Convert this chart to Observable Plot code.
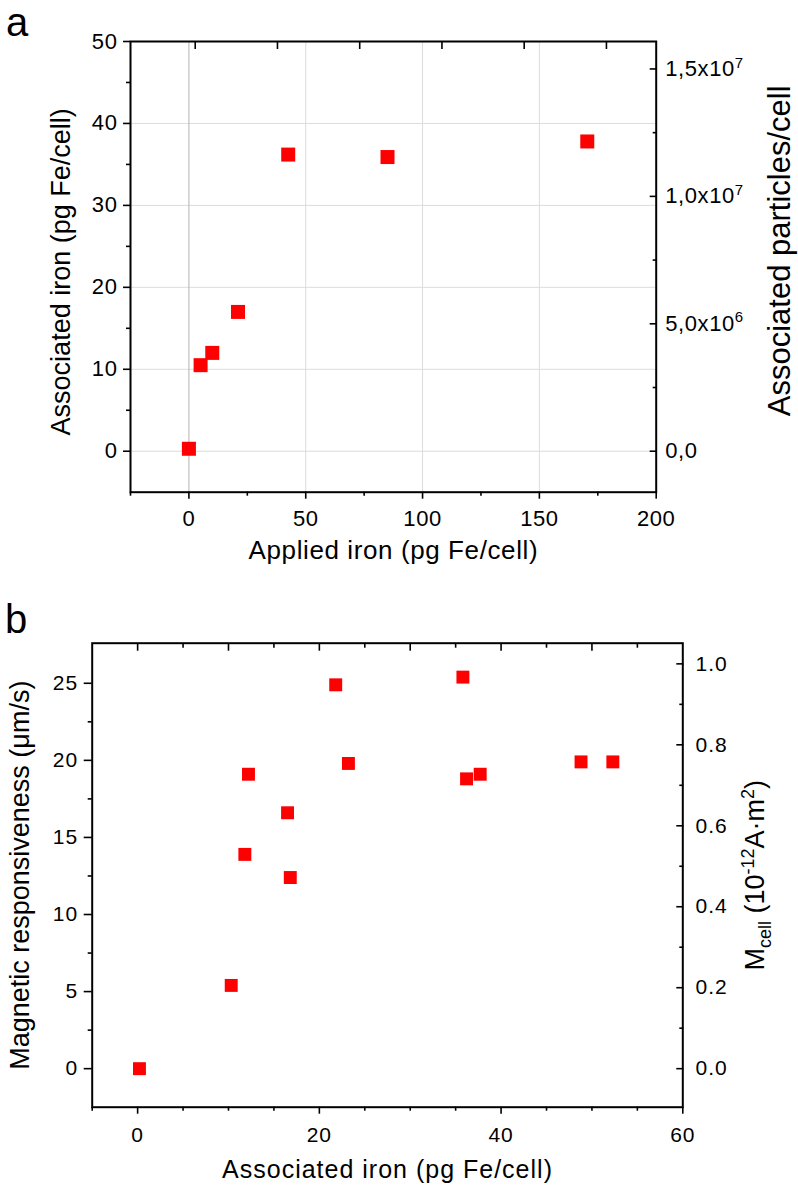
<!DOCTYPE html>
<html><head><meta charset="utf-8">
<script src="https://cdn.jsdelivr.net/npm/d3@7"></script>
<script src="https://cdn.jsdelivr.net/npm/@observablehq/plot@0.6"></script>
<style>
body{margin:0;background:#fff;}
#wrap{position:relative;width:798px;height:1188px;font-family:"Liberation Sans",Arial,Helvetica,sans-serif;color:#000;}
.panel{position:absolute;left:0;}
.letter{position:absolute;font-size:40px;line-height:40px;}
</style></head><body>
<div id="wrap">
<div id="pa" class="panel" style="top:0"></div>
<div id="pb" class="panel" style="top:590px"></div>
<div class="letter" style="left:6px;top:2px">a</div>
<div class="letter" style="left:5px;top:599px">b</div>
</div>
<script>
const FONT = '"Liberation Sans", Arial, Helvetica, sans-serif';

// ---------------- Panel a data ----------------
const appliedIron = [0, 5, 10, 21, 42.5, 85, 170.5];
const associatedIronA = [0.3, 10.5, 12.0, 17.0, 36.2, 35.9, 37.8];
const aXTicks = [0, 50, 100, 150, 200];
const aXMinor = [-25, 25, 75, 125, 175];
const aXTop = [2.7, 37.9, 73.1, 108.3, 143.5, 178.7];
const aYTicks = [0, 10, 20, 30, 40, 50];
const aYMinor = [5, 15, 25, 35, 45];
const aGridY = [0, 10, 20, 30, 40];
const aGridX = [50, 100, 150];
const aGridX0 = [0];
const particlesPerPg = 5e6 / 15.55;
const particleTicks = [0, 5e6, 1e7, 1.5e7];
const particleTickLabels = ["0,0", "5,0x10^{6}", "1,0x10^{7}", "1,5x10^{7}"];
const particleMinor = [2.5e6, 7.5e6, 1.25e7];

// ---------------- Panel b data ----------------
const associatedIronB = [0.2, 10.3, 11.8, 12.2, 16.5, 16.8, 21.8, 23.2, 35.8, 36.2, 37.7, 48.8, 52.3];
const responsiveness = [0, 5.4, 13.9, 19.1, 16.6, 12.4, 24.9, 19.8, 25.4, 18.8, 19.1, 19.9, 19.9];
const bXTicks = [0, 20, 40, 60];
const bXMinor = [-5, 5, 10, 15, 25, 30, 35, 45, 50, 55];
const bTopMajor = [0, 10, 20, 30, 40, 50];
const bTopMinor = [5, 15, 25, 35, 45, 55];
const bYTicks = [0, 5, 10, 15, 20, 25];
const bYMinor = [2.5, 7.5, 12.5, 17.5, 22.5];
const unitsPerMcell = 26.26; // µm/s per 1e-12 A·m²
const mcellTicks = [0, 0.2, 0.4, 0.6, 0.8, 1.0];
const mcellTickLabels = ["0.0", "0.2", "0.4", "0.6", "0.8", "1.0"];
const mcellMinor = [0.1, 0.3, 0.5, 0.7, 0.9];

const labelShift = {
  "Associated particles/cell": -16,
  "Associated iron (pg Fe/cell)@a": 5
};

function blank() { return ""; }

// ---------- Panel a ----------
const aRightPos = particleTicks.map(p => p / particlesPerPg);
const aRightMap = new Map(aRightPos.map((p, i) => [p, particleTickLabels[i]]));
const idxA = d3.range(appliedIron.length);
const plotA = Plot.plot({
  width: 798, height: 590,
  marginTop: 41, marginBottom: 98.3, marginLeft: 130, marginRight: 142.3,
  style: {fontFamily: FONT, fontSize: "22px", background: "white", color: "black", overflow: "visible"},
  x: {domain: [-25, 200]},
  y: {domain: [-5, 50]},
  marks: [
    Plot.ruleY(aGridY, {stroke: "#dcdcdc", strokeWidth: 1}),
    Plot.ruleX(aGridX, {stroke: "#dcdcdc", strokeWidth: 1}),
    Plot.ruleX(aGridX0, {stroke: "#b4b4b4", strokeWidth: 1}),
    Plot.dot(idxA, {x: i => appliedIron[i], y: i => associatedIronA[i], symbol: "square", r: 7.9, fill: "#ff0000", stroke: null}),
    Plot.frame({stroke: "black", strokeWidth: 2}),
    Plot.axisX(aXTicks, {anchor: "bottom", tickSize: 7, tickPadding: 11, strokeWidth: 1.6, fontSize: 22, label: null}),
    Plot.axisX(aXMinor, {anchor: "bottom", tickSize: 4, tickFormat: blank, strokeWidth: 1.6, label: null}),
    Plot.axisX(aXTop, {anchor: "top", tickSize: -7, tickFormat: blank, strokeWidth: 1.6, label: null}),
    Plot.axisX([], {anchor: "bottom", label: "Applied iron (pg Fe/cell)", labelAnchor: "center", labelArrow: "none", labelOffset: 67, fontSize: 26}),
    Plot.axisY(aYTicks, {anchor: "left", tickSize: 7, tickPadding: 6, strokeWidth: 1.6, fontSize: 22, label: null}),
    Plot.axisY(aYMinor, {anchor: "left", tickSize: 4, tickFormat: blank, strokeWidth: 1.6, label: null}),
    Plot.axisY([], {anchor: "left", label: "Associated iron (pg Fe/cell)", labelAnchor: "center", labelArrow: "none", labelOffset: 80, fontSize: 27}),
    Plot.axisY(aRightPos, {anchor: "right", tickSize: -7, tickPadding: 16, strokeWidth: 1.6, fontSize: 22, tickFormat: d => aRightMap.get(d), label: null}),
    Plot.axisY(particleMinor.map(p => p / particlesPerPg), {anchor: "right", tickSize: -4, tickFormat: blank, strokeWidth: 1.6, label: null}),
    Plot.axisY([], {anchor: "right", label: "Associated particles/cell", labelAnchor: "center", labelArrow: "none", labelOffset: 134, fontSize: 31})
  ]
});
document.getElementById("pa").appendChild(plotA);

// ---------- Panel b ----------
const bRightPos = mcellTicks.map(m => m * unitsPerMcell);
const bRightMap = new Map(bRightPos.map((p, i) => [p, mcellTickLabels[i]]));
const idxB = d3.range(associatedIronB.length);
const plotB = Plot.plot({
  width: 798, height: 598,
  marginTop: 52.7, marginBottom: 81.3, marginLeft: 91.7, marginRight: 115.7,
  style: {fontFamily: FONT, fontSize: "21px", background: "white", color: "black", overflow: "visible"},
  x: {domain: [-5, 60]},
  y: {domain: [-2.5, 27.6]},
  marks: [
    Plot.dot(idxB, {x: i => associatedIronB[i], y: i => responsiveness[i], symbol: "square", r: 7.3, fill: "#ff0000", stroke: null}),
    Plot.frame({stroke: "black", strokeWidth: 2}),
    Plot.axisX(bXTicks, {anchor: "bottom", tickSize: 7, tickPadding: 13, strokeWidth: 1.6, fontSize: 21, label: null}),
    Plot.axisX(bXMinor, {anchor: "bottom", tickSize: 4, tickFormat: blank, strokeWidth: 1.6, label: null}),
    Plot.axisX(bTopMajor, {anchor: "top", tickSize: -7, tickFormat: blank, strokeWidth: 1.6, label: null}),
    Plot.axisX(bTopMinor, {anchor: "top", tickSize: -4, tickFormat: blank, strokeWidth: 1.6, label: null}),
    Plot.axisX([], {anchor: "bottom", label: "Associated iron (pg Fe/cell)", labelAnchor: "center", labelArrow: "none", labelOffset: 71, fontSize: 25}),
    Plot.axisY(bYTicks, {anchor: "left", tickSize: 8, tickPadding: 6, strokeWidth: 1.6, fontSize: 21, label: null}),
    Plot.axisY(bYMinor, {anchor: "left", tickSize: 4, tickFormat: blank, strokeWidth: 1.6, label: null}),
    Plot.axisY([], {anchor: "left", label: "Magnetic responsiveness (μm/s)", labelAnchor: "center", labelArrow: "none", labelOffset: 82, fontSize: 27}),
    Plot.axisY(bRightPos, {anchor: "right", tickSize: -7, tickPadding: 19.7, strokeWidth: 1.6, fontSize: 21, tickFormat: d => bRightMap.get(d), label: null}),
    Plot.axisY(mcellMinor.map(m => m * unitsPerMcell), {anchor: "right", tickSize: -4, tickFormat: blank, strokeWidth: 1.6, label: null}),
    Plot.axisY([], {anchor: "right", label: "M_{cell} (10^{-12}A·m^{2})", labelAnchor: "center", labelArrow: "none", labelOffset: 81, fontSize: 27})
  ]
});
document.getElementById("pb").appendChild(plotB);

// ---------- post-processing: super/subscripts, spacing and label nudges ----------
const SVGNS = "http://www.w3.org/2000/svg";
function richText(el, str) {
  const base = parseFloat(getComputedStyle(el).fontSize) || 20;
  const small = Math.round(base * 0.66);
  const segs = [];
  const re = /(\^|_)\{([^}]*)\}/g;
  let last = 0, m;
  while ((m = re.exec(str))) {
    if (m.index > last) segs.push({t: str.slice(last, m.index), off: 0, size: null});
    segs.push({t: m[2], off: m[1] === "^" ? -base * 0.38 : base * 0.25, size: small});
    last = re.lastIndex;
  }
  if (last < str.length) segs.push({t: str.slice(last), off: 0, size: null});
  el.textContent = "";
  let cur = 0;
  for (const s of segs) {
    const ts = document.createElementNS(SVGNS, "tspan");
    ts.textContent = s.t;
    const dy = s.off - cur;
    if (dy) ts.setAttribute("dy", dy.toFixed(2));
    if (s.size) ts.setAttribute("font-size", s.size);
    el.appendChild(ts);
    cur = s.off;
  }
}
function post(svg, tag, spacing) {
  d3.select(svg).selectAll("text").each(function () {
    const s = this.textContent;
    const tr = this.getAttribute("transform") || "";
    const shift = labelShift[s + "@" + tag] ?? labelShift[s];
    if (shift) this.setAttribute("transform", `translate(0,${shift}) ` + tr);
    if (!/rotate/.test(tr)) this.style.letterSpacing = spacing + "px";
    if (/[\^_]\{/.test(s)) richText(this, s);
  });
}
post(plotA, "a", 0.6);
post(plotB, "b", 1);
</script>
</body></html>
